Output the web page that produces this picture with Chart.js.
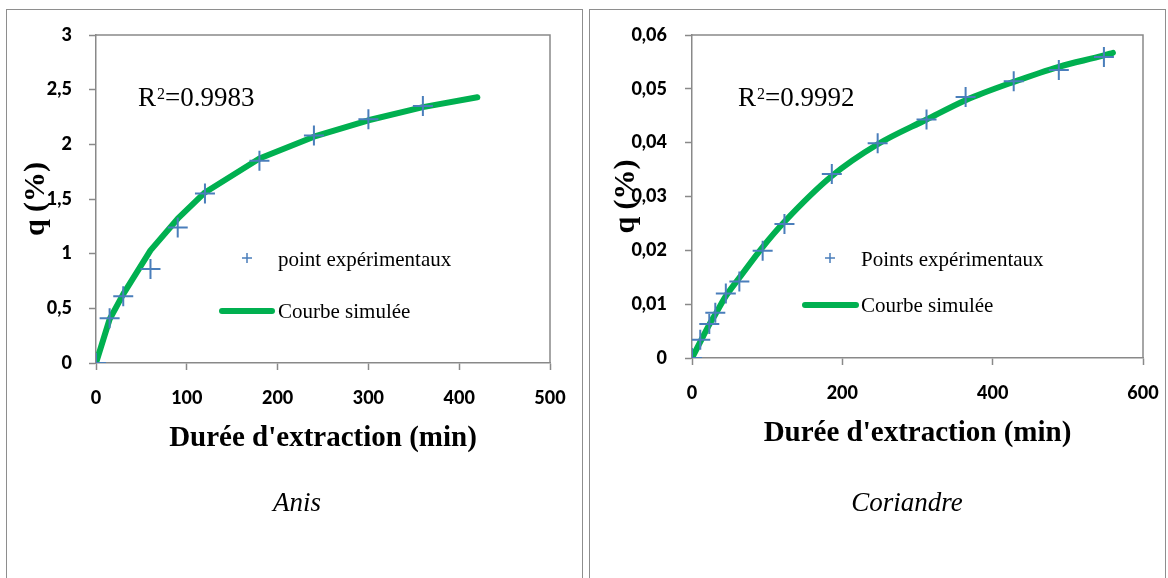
<!DOCTYPE html>
<html lang="fr">
<head>
<meta charset="UTF-8">
<title>Cinétique d'extraction</title>
<script src="https://cdn.jsdelivr.net/npm/chart.js"></script>
<style>
  body { margin: 0; background: #fff; width: 1168px; height: 578px; overflow: hidden; position: relative; }
  .panel { position: absolute; top: 9px; height: 600px; border: 1px solid #8e8e8e; box-sizing: border-box; }
  #p1 { left: 6px; width: 577px; }
  #p2 { left: 589px; width: 577px; }
  canvas { position: absolute; top: 0; }
  #anis { left: 0; }
  #coriandre { left: 584px; }
</style>
</head>
<body>
<div class="panel" id="p1"></div>
<div class="panel" id="p2"></div>
<canvas id="anis" width="584" height="578"></canvas>
<canvas id="coriandre" width="584" height="578"></canvas>

<script>
// Anis : points mesurés et courbe du modèle
const anisTimes = [0, 15, 30, 60, 90, 120, 180, 240, 300, 360];
const anisQ = [0, 0.41, 0.61, 0.86, 1.24, 1.55, 1.85, 2.08, 2.23, 2.35];
const anisFitTimes = [0, 15, 30, 60, 90, 120, 180, 240, 300, 360, 420];
const anisFitQ = [0, 0.40, 0.63, 1.03, 1.32, 1.56, 1.87, 2.07, 2.22, 2.34, 2.43];

// Coriandre
const corTimes = [0, 11, 23, 31, 45, 63, 94, 123, 186, 247, 312, 364, 428, 488, 548];
const corQ = [0, 0.0034, 0.0063, 0.0084, 0.0120, 0.0142, 0.0199, 0.0249, 0.0342, 0.0399, 0.0443, 0.0485, 0.0514, 0.0535, 0.0559];
const corFitTimes = [0, 11, 23, 31, 45, 63, 94, 123, 186, 247, 312, 364, 428, 488, 548, 560];
const corFitQ = [0, 0.0030, 0.0062, 0.0081, 0.0115, 0.0149, 0.0206, 0.0253, 0.0338, 0.0397, 0.0443, 0.0479, 0.0513, 0.0541, 0.0562, 0.0567];

const AXIS = '#898989';
const BLUE = '#4a7ebb';
const GREEN = '#00b050';
const SERIF = '"Liberation Serif", "Times New Roman", serif';

function pairs(xs, ys) {
    return xs.map(function (x, i) { return { x: x, y: ys[i] }; });
}

function cross(ctx, x, y, r, w) {
    ctx.strokeStyle = BLUE;
    ctx.lineWidth = w;
    ctx.beginPath();
    ctx.moveTo(x - r, y); ctx.lineTo(x + r, y);
    ctx.moveTo(x, y - r); ctx.lineTo(x, y + r);
    ctx.stroke();
}

// top and right edges of the plot area
const frame = {
    id: 'frame',
    beforeDatasetsDraw(chart) {
        const a = chart.chartArea, ctx = chart.ctx;
        ctx.save();
        ctx.strokeStyle = AXIS;
        ctx.lineWidth = 1.5;
        ctx.beginPath();
        ctx.moveTo(a.left, a.top);
        ctx.lineTo(a.right, a.top);
        ctx.lineTo(a.right, a.bottom);
        ctx.stroke();
        ctx.restore();
    }
};

// legend, R² and plant name
const notes = {
    id: 'notes',
    afterDraw(chart, args, o) {
        const ctx = chart.ctx;
        const ds = chart.data.datasets;
        ctx.save();
        ctx.fillStyle = '#000';
        ctx.textBaseline = 'middle';
        ctx.font = '21px ' + SERIF;

        cross(ctx, o.markX, o.row1, 5, 1.5);
        ctx.fillText(ds[0].label, o.textX, o.row1 + 2);

        ctx.strokeStyle = GREEN;
        ctx.lineWidth = 6;
        ctx.lineCap = 'round';
        ctx.beginPath();
        ctx.moveTo(o.lineX0, o.row2);
        ctx.lineTo(o.lineX1, o.row2);
        ctx.stroke();
        ctx.fillText(ds[1].label, o.textX, o.row2 + 1);

        // R²
        ctx.textBaseline = 'alphabetic';
        ctx.font = '27px ' + SERIF;
        let x = o.r2X;
        ctx.fillText('R', x, o.r2Y);
        x += ctx.measureText('R').width + 1;
        ctx.font = '16px ' + SERIF;
        ctx.fillText('2', x, o.r2Y - 7);
        x += ctx.measureText('2').width;
        ctx.font = '27px ' + SERIF;
        ctx.fillText('=' + o.r2, x, o.r2Y);

        ctx.font = 'italic 27px ' + SERIF;
        ctx.textAlign = 'center';
        ctx.fillText(o.name, o.nameX, o.nameY);
        ctx.restore();
    }
};

function build(id, c) {
    const tickFont = { family: 'Lato', weight: 900, size: 18 };
    return new Chart(document.getElementById(id), {
        type: 'scatter',
        data: {
            datasets: [{
                label: c.pointLabel,
                data: pairs(c.times, c.q),
                pointStyle: 'cross',
                pointRadius: 10,
                pointBorderWidth: 2,
                pointBorderColor: BLUE,
                pointBackgroundColor: BLUE
            }, {
                label: 'Courbe simulée',
                data: pairs(c.fitTimes, c.fitQ),
                showLine: true,
                pointRadius: 0,
                borderColor: GREEN,
                borderWidth: 6,
                borderCapStyle: 'round',
                borderJoinStyle: 'round',
                cubicInterpolationMode: c.smooth ? 'monotone' : 'default',
                tension: 0
            }]
        },
        options: {
            responsive: false,
            animation: false,
            devicePixelRatio: 1,
            layout: { padding: { left: 0, top: 35, right: c.padRight, bottom: c.padBottom } },
            plugins: {
                legend: { display: false },
                tooltip: { enabled: false },
                notes: c.notes
            },
            scales: {
                x: {
                    type: 'linear',
                    min: 0, max: c.xMax,
                    ticks: { stepSize: c.xStep, padding: 17, color: '#000', font: tickFont, maxRotation: 0 },
                    grid: { drawOnChartArea: false, tickLength: 7, color: AXIS, tickWidth: 1.5 },
                    border: { color: AXIS, width: 1.5 },
                    title: {
                        display: true, text: "Durée d'extraction (min)", color: '#000', padding: 0,
                        font: { family: SERIF, size: 29, weight: 'bold', lineHeight: 1 }
                    },
                    afterFit: function (s) {
                        s.height = 90;
                        s.paddingLeft = 0;
                        s.paddingRight = 0;
                    }
                },
                y: {
                    min: 0, max: c.yMax,
                    ticks: { stepSize: c.yStep, padding: c.yPad, color: '#000', font: tickFont, callback: c.fmt },
                    grid: { drawOnChartArea: false, tickLength: 7, color: AXIS, tickWidth: 1.5 },
                    border: { color: AXIS, width: 1.5 },
                    title: {
                        display: true, text: 'q (%)', color: '#000', padding: { top: c.titlePad, bottom: 0 },
                        font: { family: SERIF, size: 30, weight: 'bold', lineHeight: 1 }
                    },
                    afterFit: function (s) {
                        s.width = c.yWidth;
                        s.paddingTop = 0;
                        s.paddingBottom = 0;
                    }
                }
            }
        },
        plugins: [frame, notes]
    });
}

build('anis', {
    times: anisTimes, q: anisQ, fitTimes: anisFitTimes, fitQ: anisFitQ,
    pointLabel: 'point expérimentaux',
    xMax: 500, xStep: 100, yMax: 3, yStep: 0.5,
    fmt: function (v) { return String(v).replace('.', ','); },
    yWidth: 96, yPad: 17, titlePad: 21, padRight: 34, padBottom: 125, smooth: false,
    notes: {
        markX: 247, textX: 278, row1: 258, row2: 311, lineX0: 222, lineX1: 272,
        r2X: 138, r2Y: 106, r2: '0.9983', name: 'Anis', nameX: 297, nameY: 511
    }
});

build('coriandre', {
    times: corTimes, q: corQ, fitTimes: corFitTimes, fitQ: corFitQ,
    pointLabel: 'Points expérimentaux',
    xMax: 600, xStep: 200, yMax: 0.06, yStep: 0.01,
    fmt: function (v) { return v === 0 ? '0' : v.toFixed(2).replace('.', ','); },
    yWidth: 108, yPad: 18, titlePad: 27, padRight: 25, padBottom: 130, smooth: true,
    notes: {
        markX: 246, textX: 277, row1: 258, row2: 305, lineX0: 221, lineX1: 272,
        r2X: 154, r2Y: 106, r2: '0.9992', name: 'Coriandre', nameX: 323, nameY: 511
    }
});
</script>
</body>
</html>
